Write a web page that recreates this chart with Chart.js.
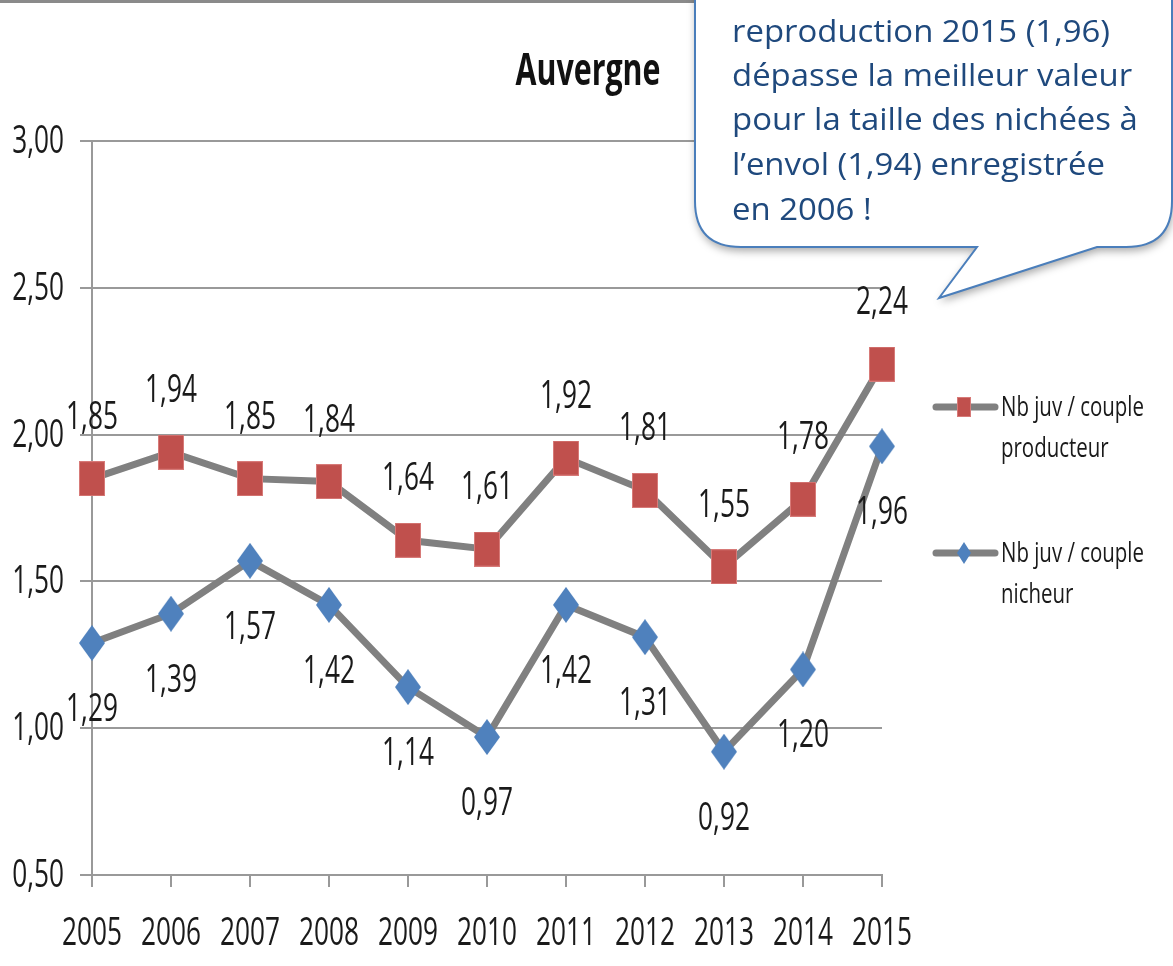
<!DOCTYPE html>
<html>
<head>
<meta charset="utf-8">
<script src="https://cdn.jsdelivr.net/npm/chart.js@4.4.1/dist/chart.umd.min.js"></script>
<style>
html, body { margin:0; padding:0; background:#fff; }
canvas { display:block; }
</style>
</head>
<body>
<canvas id="chart" width="1173" height="966"></canvas>
<script>
const years = ['2005','2006','2007','2008','2009','2010','2011','2012','2013','2014','2015'];
const producteur = [1.85, 1.94, 1.85, 1.84, 1.64, 1.61, 1.92, 1.81, 1.55, 1.78, 2.24];
const nicheur = [1.29, 1.39, 1.57, 1.42, 1.14, 0.97, 1.42, 1.31, 0.92, 1.20, 1.96];
const yTicks = [0.5, 1.0, 1.5, 2.0, 2.5, 3.0];
const legendNames = [['Nb juv / couple', 'producteur'], ['Nb juv / couple', 'nicheur']];
const titleText = 'Auvergne';
const bubbleLines = [
  'reproduction 2015 (1,96)',
  'dépasse la meilleur valeur',
  'pour la taille des nichées à',
  'l\u2019envol (1,94) enregistrée',
  'en 2006 !'
];

const RED = '#C0504D';
const BLUE = '#4F81BD';
const LINE = '#808080';
const FONT = '"Open Sans", "Liberation Sans", sans-serif';

function fmt(v) { return v.toFixed(2).replace('.', ','); }

function makeSquare(w, h, color) {
  const c = document.createElement('canvas');
  c.width = w; c.height = h;
  const g = c.getContext('2d');
  g.fillStyle = color;
  g.fillRect(0, 0, w, h);
  g.strokeStyle = 'rgba(230,150,150,0.6)';
  g.lineWidth = 1;
  g.strokeRect(0.5, 0.5, w - 1, h - 1);
  return c;
}

function makeDiamond(w, h, color) {
  const c = document.createElement('canvas');
  c.width = w; c.height = h;
  const g = c.getContext('2d');
  g.fillStyle = color;
  g.beginPath();
  g.moveTo(w / 2, 0); g.lineTo(w, h / 2); g.lineTo(w / 2, h); g.lineTo(0, h / 2);
  g.closePath();
  g.fill();
  return c;
}

// horizontally squeezed text, like the original export
function fitScale(ctx, font, sample, width) {
  ctx.save();
  ctx.font = font;
  const s = width / ctx.measureText(sample).width;
  ctx.restore();
  return s;
}

function drawText(ctx, text, x, y, font, sx, align, color) {
  ctx.save();
  ctx.font = font;
  ctx.fillStyle = color;
  ctx.textBaseline = 'alphabetic';
  ctx.textAlign = 'left';
  const w = ctx.measureText(text).width * sx;
  let left = x;
  if (align === 'center') left = x - w / 2;
  if (align === 'right') left = x - w;
  ctx.translate(left, y);
  ctx.scale(sx, 1);
  ctx.fillText(text, 0, 0);
  ctx.restore();
}

const labelsPlugin = {
  id: 'labelsPlugin',
  afterDatasetsDraw(chart) {
    const ctx = chart.ctx;
    const font = '38px ' + FONT;
    const sx = fitScale(ctx, font, '2005', 60);
    chart.data.datasets.forEach((ds, di) => {
      const meta = chart.getDatasetMeta(di);
      meta.data.forEach((pt, i) => {
        const y = di === 0 ? pt.y - 50 : pt.y + 78;
        drawText(ctx, fmt(ds.data[i]), pt.x, y, font, sx, 'center', '#1a1a1a');
      });
    });
  },
  afterDraw(chart) {
    const ctx = chart.ctx;
    const xs = chart.scales.x, ys = chart.scales.y;
    const font = '38px ' + FONT;
    const sx = fitScale(ctx, font, '2005', 60);

    ys.ticks.forEach(t => {
      drawText(ctx, fmt(t.value), 64, ys.getPixelForValue(t.value) + 12, font, sx, 'right', '#1a1a1a');
    });
    years.forEach((yr, i) => {
      drawText(ctx, yr, xs.getPixelForTick(i), chart.chartArea.bottom + 70, font, sx, 'center', '#1a1a1a');
    });

    // title
    const tFont = 'bold 45px ' + FONT;
    drawText(ctx, titleText, 588, 85, tFont, fitScale(ctx, tFont, titleText, 145), 'center', '#111');

    // legend
    const lFont = '28px ' + FONT;
    const lsx = fitScale(ctx, lFont, 'Nb juv / couple', 143);
    const legendY = [407, 553];
    const legendMarks = [makeSquare(14, 20, RED), makeDiamond(14, 22, BLUE)];
    legendNames.forEach((lines, i) => {
      const y = legendY[i];
      ctx.save();
      ctx.strokeStyle = LINE;
      ctx.lineWidth = 7;
      ctx.lineCap = 'round';
      ctx.beginPath();
      ctx.moveTo(936, y); ctx.lineTo(995, y);
      ctx.stroke();
      ctx.restore();
      const m = legendMarks[i];
      ctx.drawImage(m, 964 - m.width / 2, y - m.height / 2);
      drawText(ctx, lines[0], 1001, y + 9, lFont, lsx, 'left', '#1a1a1a');
      drawText(ctx, lines[1], 1001, y + 50, lFont, lsx, 'left', '#1a1a1a');
    });

    // frame line at the top
    ctx.save();
    ctx.fillStyle = '#8a8a8a';
    ctx.fillRect(0, 0, chart.width, 3);
    ctx.restore();

    // speech bubble
    const L = 695, R = 1172, B = 247, r = 46;
    ctx.save();
    ctx.beginPath();
    ctx.moveTo(L, -60);
    ctx.lineTo(L, B - r);
    ctx.quadraticCurveTo(L, B, L + r, B);
    ctx.lineTo(977, B);
    ctx.lineTo(939, 298);
    ctx.lineTo(1097, B);
    ctx.lineTo(R - r, B);
    ctx.quadraticCurveTo(R, B, R, B - r);
    ctx.lineTo(R, -60);
    ctx.closePath();
    ctx.shadowColor = 'rgba(0,0,0,0.35)';
    ctx.shadowBlur = 8;
    ctx.shadowOffsetX = 1;
    ctx.shadowOffsetY = 4;
    ctx.fillStyle = '#ffffff';
    ctx.fill();
    ctx.shadowColor = 'transparent';
    ctx.strokeStyle = '#4A7EBB';
    ctx.lineWidth = 2;
    ctx.stroke();
    ctx.restore();

    const bFont = '31px ' + FONT;
    const bsx = fitScale(ctx, bFont, bubbleLines[0], 378);
    const baselines = [42, 86, 130, 175, 220];
    bubbleLines.forEach((line, i) => {
      drawText(ctx, line, 732, baselines[i], bFont, bsx, 'left', '#1F497D');
    });
  }
};

const ctx = document.getElementById('chart').getContext('2d');

new Chart(ctx, {
  type: 'line',
  data: {
    labels: years,
    datasets: [
      {
        label: legendNames[0].join(' '),
        data: producteur,
        borderColor: LINE,
        borderWidth: 7,
        pointStyle: makeSquare(26, 35, RED),
        pointRadius: 13,
        tension: 0,
        clip: false
      },
      {
        label: legendNames[1].join(' '),
        data: nicheur,
        borderColor: LINE,
        borderWidth: 7,
        pointStyle: makeDiamond(26, 36, BLUE),
        pointRadius: 13,
        tension: 0,
        clip: false
      }
    ]
  },
  options: {
    responsive: false,
    animation: false,
    events: [],
    layout: { padding: { left: 80, right: 291, top: 141, bottom: 79 } },
    plugins: {
      legend: { display: false },
      tooltip: { enabled: false }
    },
    scales: {
      x: {
        offset: false,
        ticks: { display: false },
        grid: { drawOnChartArea: false, tickLength: 12, color: '#999999', lineWidth: 2 },
        border: { color: '#999999', width: 2 }
      },
      y: {
        min: 0.5,
        max: 3,
        afterBuildTicks: s => { s.ticks = yTicks.map(v => ({ value: v })); },
        ticks: { display: false },
        grid: { tickLength: 12, color: '#999999', lineWidth: 2 },
        border: { color: '#999999', width: 2 }
      }
    }
  },
  plugins: [labelsPlugin]
});
</script>
</body>
</html>
